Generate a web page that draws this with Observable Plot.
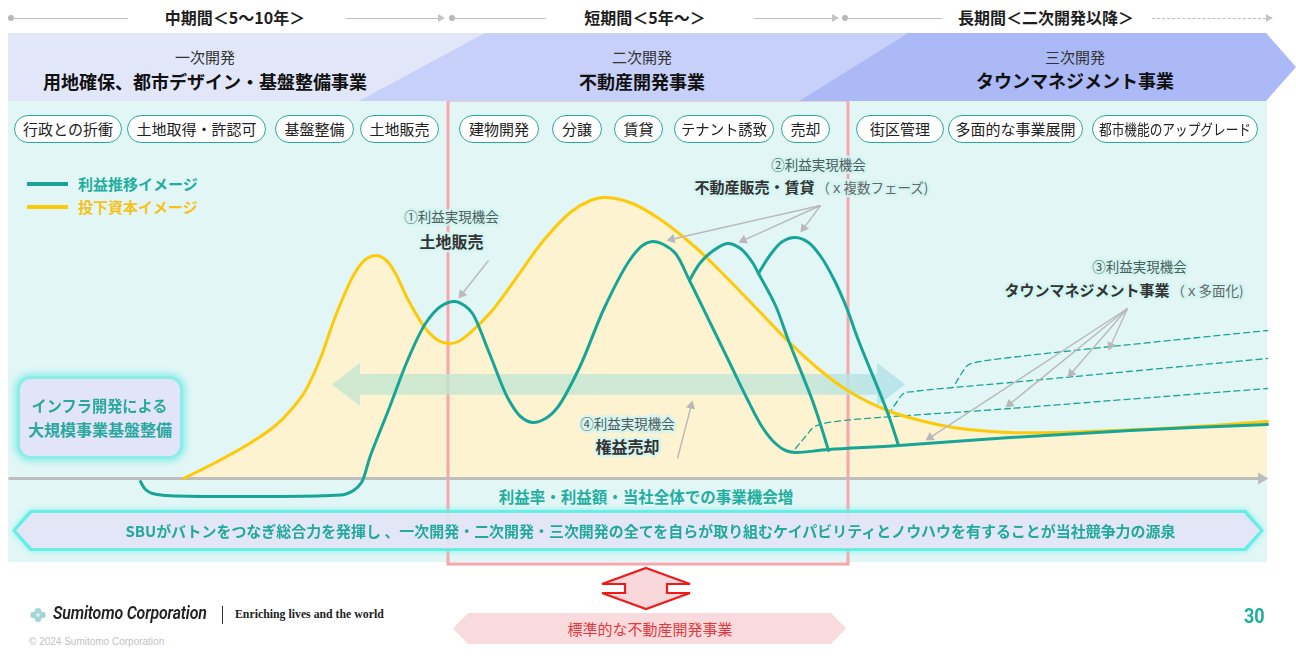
<!DOCTYPE html>
<html lang="ja">
<head>
<meta charset="utf-8">
<title>不動産開発事業の利益推移イメージ</title>
<script src="https://cdn.jsdelivr.net/npm/d3@7"></script>
<script src="https://cdn.jsdelivr.net/npm/@observablehq/plot@0.6"></script>
<style>
  html, body { margin: 0; padding: 0; background: #fff; }
  #page { position: relative; width: 1296px; height: 668px; overflow: hidden;
          font-family: "Noto Sans CJK JP", "Noto Sans", sans-serif; color: #222; }
</style>
</head>
<body>
<div id="page"></div>
<script>
// ---------------------------------------------------------------------------
// Data — t: time along the development horizon (panel left edge = 0),
//        v: level relative to the zero line (baseline = 0)
// ---------------------------------------------------------------------------

// 投下資本イメージ
const capitalCurve = [
  [17.5, 0], [20.7, 4], [24.1, 8.75], [26.7, 13.25], [28.2, 17], [29.7, 22], [31.1, 29.5],
  [32.8, 41.25], [34.6, 51.25], [35.7, 54.75], [36.8, 55.75], [37.8, 54.5], [38.7, 51.25],
  [40.0, 44.5], [41.7, 37.5], [43.0, 34.5], [44.0, 33.75], [45.0, 34.25], [46.2, 36.5],
  [48.2, 41.5], [50.6, 49.5], [53.5, 59.5], [56.3, 66.75], [58.2, 69.5], [59.4, 70.25],
  [60.7, 70], [62.4, 68.75], [64.9, 65.25], [68.5, 58.25], [72.1, 49.5], [75.2, 41.5],
  [77.9, 34.5], [81.2, 27], [83.9, 22], [87.9, 17], [91.2, 14.5], [94.5, 12.75],
  [100.2, 11.5], [105.2, 11.5], [110.5, 12], [117.2, 12.75], [125.9, 14.25]
];

// 利益推移イメージ (main path)
const profitCurve = [
  [13.2, -0.75], [13.7, -2.75], [14.4, -3.75], [15.8, -4.25], [24.1, -4.5], [32.2, -4.25],
  [33.6, -4], [34.5, -3], [35.3, -1], [36.2, 5.75], [38.1, 17.75], [39.9, 29.5], [41.7, 38.75],
  [43.2, 43], [44.6, 44.25], [45.6, 43.25], [46.4, 41.25], [48.1, 31.25], [49.9, 20.25],
  [51.2, 15.5], [52.4, 14], [53.7, 15], [54.9, 17.75], [57.1, 27.75], [59.6, 42.75],
  [62.1, 54.5], [63.4, 58.25], [64.4, 59.25], [65.5, 58.5], [66.7, 56.25], [68.1, 49.5],
  [70.3, 38.25], [72.1, 29], [73.8, 20.25], [75.4, 12.75], [76.7, 8.75], [77.7, 7],
  [78.7, 6.5], [82.0, 7.25], [89.0, 8.25], [100.2, 10.25], [112.2, 12], [125.9, 13.5]
];

// second and third development phases branching off the main path
const profitPhase2 = [
  [68.1, 49.5], [69.2, 54], [70.5, 57], [71.9, 58.75], [73.2, 57.5], [74.4, 54], [75.0, 51.25],
  [76.7, 43.25], [78.0, 34.5], [80.5, 18.75], [82.0, 7]
];
const profitPhase3 = [
  [75.0, 51.25], [76.2, 56], [77.4, 59.25], [78.7, 60.25], [80.0, 59], [81.3, 55.25],
  [82.6, 49.5], [83.8, 42.75], [85.0, 34.5], [87.9, 16.5], [89.0, 8.25]
];

// タウンマネジメント: successive layers of recurring profit
const townLayer1 = [[78.7, 7.5], [79.7, 10.5], [80.5, 12.75], [81.5, 13.75], [100.2, 17.5], [125.9, 22.5]];
const townLayer2 = [[88.0, 16], [88.8, 19], [89.5, 21.25], [90.5, 21.75], [100.2, 24], [125.9, 30]];
const townLayer3 = [[94.7, 23.75], [95.3, 26.25], [95.9, 28.25], [96.7, 29], [100.2, 30.25], [125.9, 37]];

// 標準的な不動産開発事業 — the window of a standard real-estate project
const standardWindow = [{start: 44.0, end: 84.0}];

// Text
const periods = ["中期間＜5〜10年＞", "短期間＜5年〜＞", "長期間＜二次開発以降＞"];
const stages = ["一次開発", "二次開発", "三次開発"];
const stageBusinesses = ["用地確保、都市デザイン・基盤整備事業", "不動産開発事業", "タウンマネジメント事業"];
const activities = [
  "行政との折衝", "土地取得・許認可", "基盤整備", "土地販売",
  "建物開発", "分譲", "賃貸", "テナント誘致", "売却",
  "街区管理", "多面的な事業展開", "都市機能のアップグレード"
];
const seriesNames = ["利益推移イメージ", "投下資本イメージ"];
const opportunityHeads = ["①利益実現機会", "②利益実現機会", "③利益実現機会", "④利益実現機会"];
const opportunityNames = ["土地販売", "不動産販売・賃貸", "タウンマネジメント事業", "権益売却"];
const opportunityNotes = ["", "（ｘ複数フェーズ)", "（ｘ多面化)", ""];
const infraLines = ["インフラ開発による", "大規模事業基盤整備"];
const growthText = "利益率・利益額・当社全体での事業機会増";
const sourceText = "SBUがバトンをつなぎ総合力を発揮し 、一次開発・二次開発・三次開発の全てを自らが取り組むケイパビリティとノウハウを有することが当社競争力の源泉";
const standardText = "標準的な不動産開発事業";

// ---------------------------------------------------------------------------
// Page scaffolding (HTML)
// ---------------------------------------------------------------------------
const page = document.getElementById("page");
const TEAL = "#17a597", TEAL_TEXT = "#1fae9f", GOLD = "#fdca0a";

function add(tag, css, text) {
  const e = document.createElement(tag);
  e.style.cssText = "position:absolute;" + css;
  if (text != null) e.textContent = text;
  page.appendChild(e);
  return e;
}
// centred single-line label, optionally squeezed to a maximum width
function label(text, cx, cy, css, maxW) {
  const box = add("div", `left:${cx - 700}px;top:${cy - 10}px;width:1400px;height:20px;display:flex;align-items:center;justify-content:center;white-space:nowrap;`);
  const s = document.createElement("span");
  s.style.cssText = "display:inline-block;line-height:1.1;transform-origin:50% 50%;" + css;
  s.textContent = text;
  box.appendChild(s);
  if (maxW) {
    const w = s.getBoundingClientRect().width;
    if (w > maxW) s.style.transform = `scaleX(${maxW / w})`;
  }
  return box;
}

// light panel behind the chart
add("div", "left:8px;top:101px;width:1259px;height:461px;background:#e3f6f6;z-index:0");

// timeline row
const Z = "z-index:3;";
const hLine = (x0, x1, y, dashed) =>
  add("div", `${Z}left:${x0}px;top:${y}px;width:${x1 - x0}px;height:0;border-top:1px ${dashed ? "dashed" : "solid"} #bdbdbd`);
const dot = (x, y) => add("div", `${Z}left:${x - 3}px;top:${y - 3}px;width:6px;height:6px;border-radius:50%;background:#b8b8b8`);
const head = (x, y) => add("div", `${Z}left:${x}px;top:${y - 4}px;width:0;height:0;border-left:7px solid #c4c4c4;border-top:4px solid transparent;border-bottom:4px solid transparent`);
dot(11, 18); hLine(11, 128, 18);
hLine(346, 438, 18); head(438, 18);
dot(452, 18); hLine(452, 546, 18);
hLine(754, 832, 18); head(832, 18);
dot(845, 18); hLine(845, 942, 18);
hLine(1152, 1266, 18, true); head(1266, 18);
[235, 645, 1046].forEach((cx, i) => label(periods[i], cx, 18, "font-size:16px;font-weight:700;color:#1e1e1e").style.zIndex = 3);

// stage banner
add("div", "left:8px;top:33px;width:900px;height:68px;background:#e1e6f9;z-index:2");
add("div", "left:0;top:33px;width:1296px;height:68px;background:#c7d0f9;clip-path:polygon(485px 0,908px 0,799px 68px,359px 68px);z-index:2");
add("div", "left:0;top:33px;width:1296px;height:68px;background:#abb9f6;clip-path:polygon(908px 0,1266px 0,1296px 34px,1266px 68px,799px 68px);z-index:2");
const stageX = [205, 642, 1075];
stageX.forEach((cx, i) => {
  label(stages[i], cx, 57, "font-size:15px;color:#333").style.zIndex = 3;
  label(stageBusinesses[i], cx, i === 2 ? 80.5 : 81.5, "font-size:18px;font-weight:700;color:#111").style.zIndex = 3;
});

// activity pills
const pillBoxes = [
  [14, 122], [127, 266], [275, 354], [360, 439],
  [459, 539], [552, 602], [614, 663], [674, 774], [781, 830],
  [856, 944], [948, 1083], [1092, 1258]
];
activities.forEach((t, i) => {
  const [x0, x1] = pillBoxes[i];
  add("div", `${Z}left:${x0}px;top:115px;width:${x1 - x0}px;height:28px;box-sizing:border-box;border:1.5px solid #2ba89c;border-radius:14px;background:#fff`);
  label(t, (x0 + x1) / 2, 129, "font-size:15px;color:#222", x1 - x0 - 14).style.zIndex = 3;
});

// legend
[[TEAL, TEAL_TEXT, 184], [GOLD, "#f5c21b", 207]].forEach(([c, tc, y], i) => {
  add("div", `${Z}left:27px;top:${y - 2}px;width:41px;height:3.5px;background:${c}`);
  const l = label(seriesNames[i], 0, y, `font-size:15px;font-weight:700;color:${tc}`);
  l.style.left = "78px"; l.style.width = "200px"; l.style.justifyContent = "flex-start"; l.style.zIndex = 3;
});

// infrastructure box
add("div", `${Z}left:17px;top:376px;width:166px;height:83px;box-sizing:border-box;border:3px solid #8aede8;border-radius:14px;background:#e2e5fa;box-shadow:0 0 6px 3px rgba(120,236,230,.75)`);
label(infraLines[0], 100, 406, `font-size:16px;font-weight:700;color:#2aa89d`, 136).style.zIndex = 3;
label(infraLines[1], 100, 430, `font-size:16px;font-weight:700;color:#2aa89d`, 150).style.zIndex = 3;

// growth message under the zero line
label(growthText, 646, 497, `font-size:15.5px;font-weight:700;color:${TEAL_TEXT}`, 300).style.zIndex = 3;

// source-of-competitiveness banner
const banner = add("div", `${Z}left:12px;top:510px;width:1252px;height:41px;filter:drop-shadow(0 0 3px #7ff2ea);opacity:.94`);
const hexClip = (s) => `clip-path:polygon(0 50%,${s}px 0,calc(100% - ${s}px) 0,100% 50%,calc(100% - ${s}px) 100%,${s}px 100%)`;
const bOuter = document.createElement("div");
bOuter.style.cssText = `position:absolute;inset:0;background:#5feee3;${hexClip(18)}`;
banner.appendChild(bOuter);
const bInner = document.createElement("div");
bInner.style.cssText = `position:absolute;left:4px;right:4px;top:3px;bottom:3px;background:#e2e6f8;${hexClip(16)}`;
banner.appendChild(bInner);
label(sourceText, 650, 531, `font-size:15px;font-weight:700;color:#21a99b`, 1050).style.zIndex = 4;

// double-headed arrow and standard-project label
const arrowSvg = add("div", "left:598px;top:564px;width:100px;height:50px;z-index:3");
arrowSvg.innerHTML = `<svg width="100" height="50"><polygon points="48,4 92,20 69,20 69,29 92,29 48,45 4,29 27,29 27,20 4,20" fill="#f9d8dc" stroke="#ee1b1b" stroke-width="2.2"/></svg>`;
add("div", `${Z}left:453px;top:613px;width:393px;height:31px;background:#f9dadd;${hexClip(15)}`);
label(standardText, 650, 629, "font-size:15px;color:#e6383c").style.zIndex = 3;

// footer
const logo = add("div", "left:29px;top:604px;width:18px;height:16px");
logo.innerHTML = `<svg width="18" height="16"><g fill="#a3d6d4"><circle cx="9" cy="4.2" r="3.3"/><circle cx="9" cy="11.8" r="3.3"/><circle cx="4.6" cy="8" r="3.3"/><circle cx="13.4" cy="8" r="3.3"/></g><circle cx="9" cy="8" r="2" fill="#d2efee"/></svg>`;
add("div", "left:53px;top:602px;height:22px;line-height:22px;white-space:nowrap;font-family:Roboto,'Open Sans',sans-serif;font-style:italic;font-weight:600;font-size:18.5px;color:#222;transform:scaleX(.86);transform-origin:0 50%;letter-spacing:-0.2px", "Sumitomo Corporation");
add("div", "left:222px;top:606px;width:1px;height:18px;background:#333");
add("div", "left:235px;top:606px;height:16px;line-height:16px;white-space:nowrap;font-family:'Liberation Serif','DejaVu Serif',serif;font-weight:700;font-size:11.8px;color:#222", "Enriching lives and the world");
add("div", "left:29px;top:635px;height:14px;line-height:14px;white-space:nowrap;font-family:'Liberation Sans',Arial,sans-serif;font-size:10px;color:#c2c2c2", "© 2024 Sumitomo Corporation");
add("div", "left:1244px;top:603px;height:26px;line-height:26px;white-space:nowrap;font-family:Roboto,sans-serif;font-weight:700;font-size:20px;color:#1fae9f;transform:scaleX(.9);transform-origin:0 50%", "30");

// ---------------------------------------------------------------------------
// Chart (Observable Plot)
// ---------------------------------------------------------------------------
const W = 1296, H = 668;
const xDomain = [-0.8, 128.8], yDomain = [-47.5, 119.5];
const sx = Plot.scale({x: {domain: xDomain, range: [0, W]}});
const sy = Plot.scale({y: {domain: yDomain, range: [H, 0]}});
const X = d => d[0], Y = d => d[1];

// wide two-way arrow showing the reach of the business
const spanFrom = 32.4, spanTo = 89.7, spanMid = 23.4, bodyHalf = 2.6, headHalf = 5.4, headLen = 2.8;
const band = [
  {t: spanFrom, lo: spanMid, hi: spanMid},
  {t: spanFrom + headLen, lo: spanMid - headHalf, hi: spanMid + headHalf},
  {t: spanFrom + headLen, lo: spanMid - bodyHalf, hi: spanMid + bodyHalf},
  {t: spanTo - headLen, lo: spanMid - bodyHalf, hi: spanMid + bodyHalf},
  {t: spanTo - headLen, lo: spanMid - headHalf, hi: spanMid + headHalf},
  {t: spanTo, lo: spanMid, hi: spanMid}
];

// pointers from each opportunity label to the curve they describe
const pointers = [
  {from: [48.0, 54.5], to: [45.0, 45]},
  {from: [81.2, 68.25], to: [65.8, 59.5]}, {from: [81.2, 68.25], to: [73.0, 59]}, {from: [81.2, 68.25], to: [79.2, 61.5]},
  {from: [111.9, 42.5], to: [110.0, 32]}, {from: [111.9, 42.5], to: [105.9, 25.25]},
  {from: [111.9, 42.5], to: [99.7, 17.75]}, {from: [111.9, 42.5], to: [91.7, 9.5]},
  {from: [66.9, 5], to: [68.4, 19.5]}
];
// place a filled triangle head so that its tip lands on the target
function withHead(from, to, tipOffset) {
  const x0 = sx.apply(from[0]), y0 = sy.apply(from[1]);
  const x1 = sx.apply(to[0]), y1 = sy.apply(to[1]);
  const len = Math.hypot(x1 - x0, y1 - y0), ux = (x1 - x0) / len, uy = (y1 - y0) / len;
  return {
    x1: from[0], y1: from[1],
    x2: sx.invert(x1 - ux * tipOffset), y2: sy.invert(y1 - uy * tipOffset),
    angle: Math.atan2(ux, -uy) * 180 / Math.PI
  };
}
const pointerGeo = pointers.map(p => withHead(p.from, p.to, 5.4));
const zeroLine = [withHead([0, 0], [126.0, 0], 7)];

// label anchors
const noteAt = [
  {t: 44.3, head: 65.25, name: 59},
  {t: 81.0, head: 78.25, name: 72.5, split: 80.6},
  {t: 113.1, head: 52.75, name: 46.75, split: 116.1},
  {t: 61.9, head: 13.5, name: 7.75}
];
const heads = noteAt.map((a, i) => ({t: a.t, v: a.head, text: opportunityHeads[i]}));
const centredNames = noteAt.map((a, i) => ({t: a.t, v: a.name, text: opportunityNames[i], split: a.split})).filter(d => d.split == null);
const splitNames = noteAt.map((a, i) => ({t: a.split, v: a.name, text: opportunityNames[i]})).filter(d => d.t != null);
const notes = noteAt.map((a, i) => ({t: a.split + 0.2, v: a.name, text: opportunityNotes[i]})).filter(d => d.text);

const FONT = '"Noto Sans CJK JP","Noto Sans",sans-serif';
const halo = {stroke: "#d2f5f2", strokeWidth: 5, strokeOpacity: 0.9};
const townStyle = {x: X, y: Y, curve: "catmull-rom", stroke: TEAL, strokeWidth: 1.3, strokeDasharray: "6 4"};
const profitStyle = {x: X, y: Y, curve: "catmull-rom", stroke: TEAL, strokeWidth: 3, strokeLinejoin: "round"};

const chart = Plot.plot({
  width: W, height: H, margin: 0,
  x: {domain: xDomain, axis: null},
  y: {domain: yDomain, axis: null},
  style: {background: "transparent", fontFamily: FONT, overflow: "visible"},
  marks: [
    Plot.areaY(capitalCurve, {x: X, y: Y, curve: "catmull-rom", fill: "#fdf3d0"}),
    Plot.rect(standardWindow, {x1: "start", x2: "end", y1: () => -21.5, y2: () => 94.5, fill: "none", stroke: "#f8a6ae", strokeWidth: 3}),
    Plot.areaY(band, {x: "t", y1: "lo", y2: "hi", fill: "#010203"}),
    Plot.link(zeroLine, {x1: "x1", y1: "y1", x2: "x2", y2: "y2", stroke: "#bdbdbd", strokeWidth: 3}),
    Plot.dot(zeroLine, {x: "x2", y: "y2", symbol: "triangle", r: 4.5, rotate: "angle", fill: "#bdbdbd"}),
    Plot.line(townLayer1, townStyle),
    Plot.line(townLayer2, townStyle),
    Plot.line(townLayer3, townStyle),
    Plot.line(capitalCurve, {x: X, y: Y, curve: "catmull-rom", stroke: GOLD, strokeWidth: 3}),
    Plot.line(profitPhase2, profitStyle),
    Plot.line(profitPhase3, profitStyle),
    Plot.line(profitCurve, profitStyle),
    Plot.link(pointerGeo, {x1: "x1", y1: "y1", x2: "x2", y2: "y2", stroke: "#b9b9b9", strokeWidth: 1.4}),
    Plot.dot(pointerGeo, {x: "x2", y: "y2", symbol: "triangle", r: 3.5, rotate: "angle", fill: "#b9b9b9"}),
    Plot.text(heads, {x: "t", y: "v", text: "text", fontSize: 13.5, fill: "#4c5d5d", ...halo}),
    Plot.text(centredNames, {x: "t", y: "v", text: "text", fontSize: 16, fontWeight: "bold", fill: "#333", ...halo}),
    Plot.text(splitNames, {x: "t", y: "v", text: "text", fontSize: 15, fontWeight: "bold", fill: "#333", textAnchor: "end", ...halo}),
    Plot.text(notes, {x: "t", y: "v", text: "text", fontSize: 13.5, fill: "#666", textAnchor: "start", ...halo})
  ]
});

// gradient for the two-way arrow
const defs = d3.select(chart).insert("defs", ":first-child");
const grad = defs.append("linearGradient").attr("id", "bandGrad").attr("x1", "0").attr("x2", "1").attr("y1", "0").attr("y2", "0");
grad.append("stop").attr("offset", "0%").attr("stop-color", "#c4e6cf").attr("stop-opacity", 0.8);
grad.append("stop").attr("offset", "80%").attr("stop-color", "#c2e6d8").attr("stop-opacity", 0.8);
grad.append("stop").attr("offset", "100%").attr("stop-color", "#b0e1ea").attr("stop-opacity", 0.85);
d3.select(chart).selectAll('[fill="#010203"]').attr("fill", "url(#bandGrad)");

chart.style.position = "absolute";
chart.style.left = "0px";
chart.style.top = "0px";
chart.style.zIndex = "1";
page.appendChild(chart);
</script>
</body>
</html>
